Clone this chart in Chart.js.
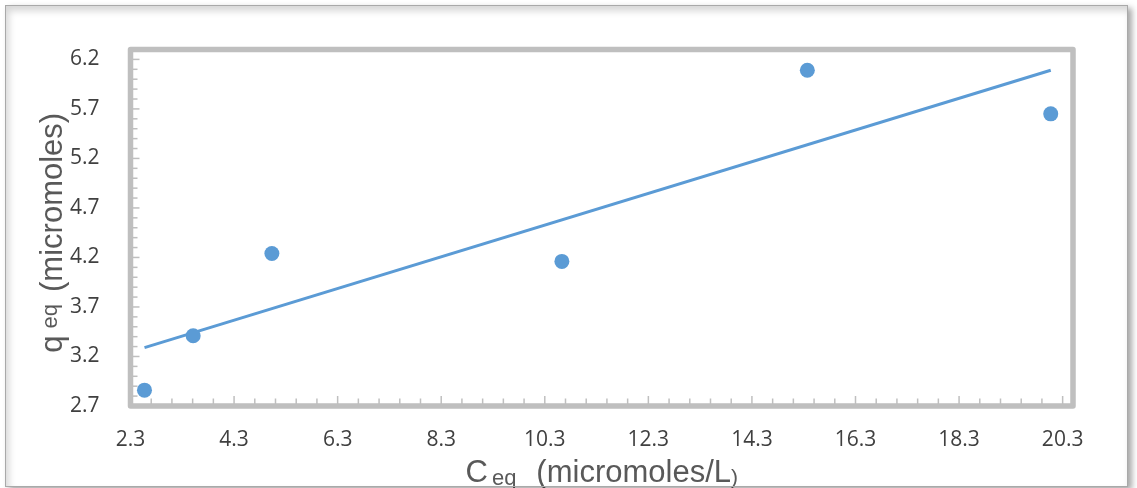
<!DOCTYPE html>
<html>
<head>
<meta charset="utf-8">
<script src="https://cdn.jsdelivr.net/npm/chart.js@4.4.1/dist/chart.umd.min.js"></script>
<style>
html,body{margin:0;padding:0;background:#fff;}
#wrap{position:relative;width:1137px;height:488px;overflow:hidden;}
#chart{position:absolute;left:0;top:0;}
#frame{position:absolute;left:5px;top:5px;width:1121px;height:480px;border:1px solid #a9a9a9;
box-shadow:4px 3px 6px rgba(0,0,0,0.35), inset 3px 5px 7px rgba(0,0,0,0.16);pointer-events:none;}
</style>
</head>
<body>
<div id="wrap">
<canvas id="chart" width="1137" height="488"></canvas>
<div id="frame"></div>
</div>
<script>
// measured points (C_eq, q_eq)
const xValues = [2.57, 3.51, 5.03, 10.63, 15.37, 20.07];
const yValues = [2.86, 3.41, 4.24, 4.16, 6.09, 5.65];

// linear trendline ends
const trendX = [2.57, 20.07];
const trendY = [3.29, 6.09];

const xTicks = [2.3, 4.3, 6.3, 8.3, 10.3, 12.3, 14.3, 16.3, 18.3, 20.3];
const yTicks = [2.7, 3.2, 3.7, 4.2, 4.7, 5.2, 5.7, 6.2];

const blue = '#5b9bd5';
const frameGrey = '#bfbfbf';

// draw a row of text pieces centred on cx
function drawPieces(ctx, parts, cx, cy){
  let total = 0;
  parts.forEach(p=>{
    ctx.font = p.size + 'px "Liberation Sans", Arial, sans-serif';
    p.w = ctx.measureText(p.t).width;
    total += p.w + (p.gap || 0);
  });
  let x = cx - total/2;
  parts.forEach(p=>{
    ctx.font = p.size + 'px "Liberation Sans", Arial, sans-serif';
    ctx.fillText(p.t, x, cy + (p.dy || 0));
    x += p.w + (p.gap || 0);
  });
}

const plotFrame = {
  id:'plotFrame',
  beforeDatasetsDraw(chart){
    const {ctx, chartArea:a, scales} = chart;
    ctx.save();
    ctx.strokeStyle = frameGrey;
    ctx.lineWidth = 1.5;
    // minor / major tick marks, pointing inwards
    for(let v = 2.3; v <= 20.31; v += 0.4){
      let px = scales.x.getPixelForValue(v);
      let major = Math.abs(((v - 2.3) / 2) - Math.round((v - 2.3) / 2)) < 0.01;
      ctx.beginPath();
      ctx.moveTo(px, a.bottom);
      ctx.lineTo(px, a.bottom - (major ? 10 : 7.5));
      ctx.stroke();
    }
    for(let v = 2.7; v <= 6.21; v += 0.1){
      let py = scales.y.getPixelForValue(v);
      let major = Math.abs(((v - 2.7) / 0.5) - Math.round((v - 2.7) / 0.5)) < 0.01;
      ctx.beginPath();
      ctx.moveTo(a.left, py);
      ctx.lineTo(a.left + (major ? 9 : 7), py);
      ctx.stroke();
    }
    ctx.lineWidth = 5.5;
    ctx.lineJoin = 'round';
    ctx.strokeRect(a.left, a.top, a.right - a.left, a.bottom - a.top);
    ctx.restore();
  }
};

const axisTitles = {
  id:'axisTitles',
  afterDraw(chart){
    const {ctx, chartArea:a} = chart;
    ctx.save();
    ctx.fillStyle = '#595959';
    ctx.textBaseline = 'alphabetic';
    drawPieces(ctx, [
      {t:'C', size:31, gap:4},
      {t:'eq', size:22, dy:3, gap:20},
      {t:'(micromoles/L', size:31},
      {t:')', size:21, dy:2}
    ], (a.left + a.right)/2, 482);
    ctx.translate(62, (a.top + a.bottom)/2 + 5);
    ctx.rotate(-Math.PI/2);
    drawPieces(ctx, [
      {t:'q', size:31, gap:7},
      {t:'eq', size:22, dy:-5, gap:12},
      {t:'(micromoles)', size:31}
    ], 0, 0);
    ctx.restore();
  }
};

const tickFont = {family:'"Open Sans", sans-serif', size:21};

new Chart(document.getElementById('chart'), {
  type:'scatter',
  data:{
    datasets:[
      {
        label:'q eq',
        data:xValues.map((x,i)=>({x:x, y:yValues[i]})),
        backgroundColor:blue,
        borderColor:blue,
        pointRadius:7.5,
        pointHoverRadius:7.5,
        borderWidth:0
      },
      {
        label:'Linear',
        type:'line',
        data:trendX.map((x,i)=>({x:x, y:trendY[i]})),
        borderColor:blue,
        borderWidth:3,
        pointRadius:0,
        fill:false
      }
    ]
  },
  options:{
    responsive:false,
    animation:false,
    devicePixelRatio:1,
    layout:{padding:{left:0, right:64, top:49.5, bottom:0}},
    plugins:{
      legend:{display:false},
      tooltip:{enabled:false}
    },
    scales:{
      x:{
        type:'linear',
        min:2.3,
        max:20.5,
        afterBuildTicks:s=>{ s.ticks = xTicks.map(v=>({value:v})); },
        afterFit:s=>{ s.height = 82; },
        grid:{display:false},
        border:{display:false},
        ticks:{font:tickFont, color:'#404040', padding:13, maxRotation:0, autoSkip:false,
          callback:v=>v.toFixed(1)}
      },
      y:{
        min:2.7,
        max:6.3,
        afterBuildTicks:s=>{ s.ticks = yTicks.map(v=>({value:v})); },
        afterFit:s=>{ s.width = 130.5; },
        grid:{display:false},
        border:{display:false},
        ticks:{font:tickFont, color:'#404040', padding:23, autoSkip:false,
          callback:v=>v.toFixed(1)}
      }
    }
  },
  plugins:[plotFrame, axisTitles]
});
</script>
</body>
</html>
